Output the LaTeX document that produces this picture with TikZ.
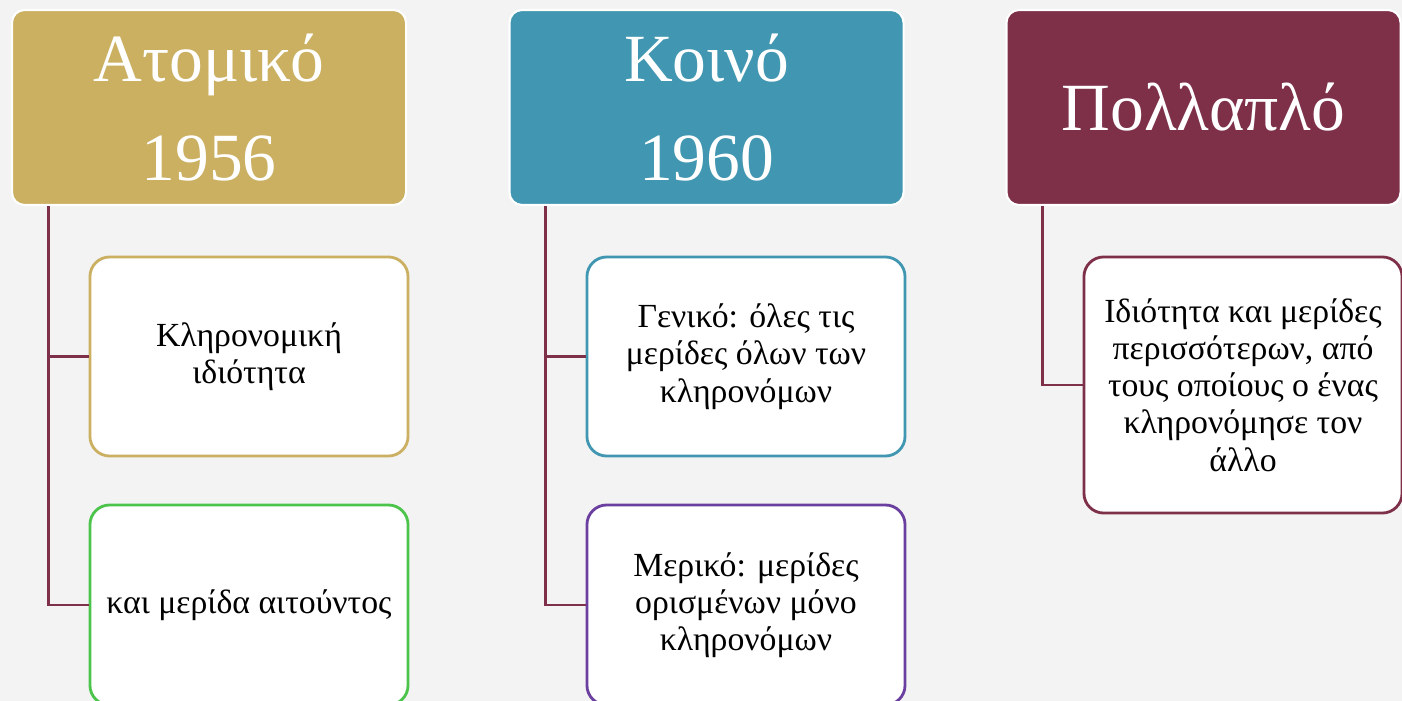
\documentclass[tikz,border=0pt]{standalone}
\usepackage{fontspec}
\setmainfont{Liberation Serif}
\usetikzlibrary{positioning}
\definecolor{gold}{HTML}{CBB062}
\definecolor{sea}{HTML}{4196B1}
\definecolor{wine}{HTML}{7E3049}
\definecolor{leaf}{HTML}{4CC44C}
\definecolor{plum}{HTML}{6B3FA0}
\definecolor{paper}{HTML}{F3F3F3}
\tikzset{
  head/.style={draw=white,line width=1.5pt,rounded corners=9pt,minimum width=9.85cm,minimum height=4.875cm,
    text=white,align=center,font=\fontsize{48}{70}\selectfont},
  item/.style={draw=#1,fill=white,line width=2pt,rounded corners=14pt,minimum width=7.95cm,minimum height=4.975cm,
    align=center,font=\fontsize{24}{26.5}\selectfont},
  link/.style={draw=wine,line width=2pt}
}
\begin{document}
\begin{tikzpicture}[x=0.025cm,y=-0.025cm]
	\useasboundingbox (0,0) rectangle (1402,701);
	\fill[paper] (0,0) rectangle (1402,701);
	%COLUMN 1 LEVEL 1
	\node[head,fill=gold] (Atom) at (209,107.5) {Ατομικό\\1956};
	  %LEVEL 2
	  \node[item=gold] (AtomA) at (249,356.5) {Κληρονομική\\ιδιότητα};
	  \node[item=leaf,minimum height=5cm] (AtomB) at (249,605) {και μερίδα αιτούντος};
	  \draw[link] (Atom.south west) ++(38,0) |- (AtomA.west);
	  \draw[link] (Atom.south west) ++(38,0) |- (AtomB.west);

	%COLUMN 2 LEVEL 1
	\node[head,fill=sea] (Koin) at (706.5,107.5) {Κοινό\\1960};
	  %LEVEL 2
	  \node[item=sea] (KoinA) at (746,356.5) {Γενικό: όλες τις\\μερίδες όλων των\\κληρονόμων};
	  \node[item=plum,minimum height=5cm] (KoinB) at (746,605) {Μερικό: μερίδες\\ορισμένων μόνο\\κληρονόμων};
	  \draw[link] (Koin.south west) ++(37,0) |- (KoinA.west);
	  \draw[link] (Koin.south west) ++(37,0) |- (KoinB.west);

	%COLUMN 3 LEVEL 1
	\node[head,fill=wine] (Poll) at (1203.5,107.5) {Πολλαπλό};
	  %LEVEL 2
	  \node[item=wine,minimum height=6.4cm] (PollA) at (1243,385) {Ιδιότητα και μερίδες\\περισσότερων, από\\τους οποίους ο ένας\\κληρονόμησε τον\\άλλο};
	  \draw[link] (Poll.south west) ++(37,0) |- (PollA.west);
\end{tikzpicture}
\end{document}
